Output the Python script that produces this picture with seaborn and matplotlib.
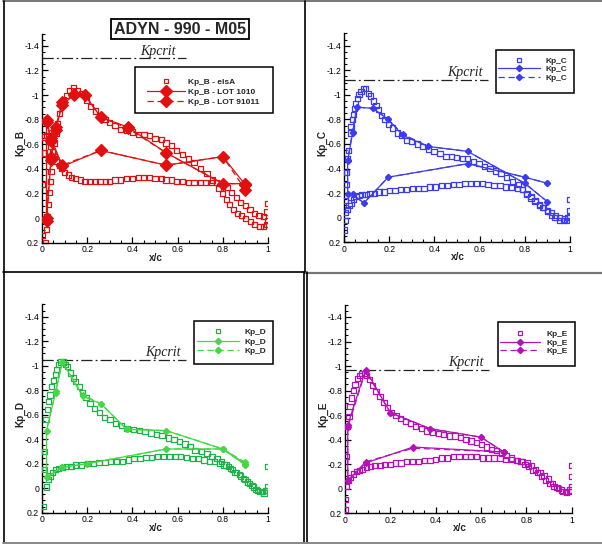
import matplotlib
matplotlib.use("Agg")
import matplotlib.pyplot as plt
import seaborn as sns
import pandas as pd
from matplotlib.lines import Line2D
from matplotlib.patches import Rectangle
from matplotlib.ticker import MultipleLocator, FuncFormatter

sns.set_theme(style="white")
plt.rcParams['font.family'] = ['Liberation Sans', 'DejaVu Sans']

W, H = 602, 545

# ---------------- Kp_B (red) ----------------
b_up_x = [0.0, 0.015, 0.02, 0.022, 0.028, 0.034, 0.037, 0.04, 0.045, 0.053, 0.062, 0.068, 0.077, 0.087,
          0.094, 0.109, 0.124, 0.139, 0.156, 0.175, 0.198, 0.215, 0.235, 0.257, 0.279, 0.30, 0.323, 0.348,
          0.375, 0.40, 0.426, 0.451, 0.475, 0.50, 0.527, 0.549, 0.572, 0.596, 0.622, 0.647, 0.673, 0.70,
          0.73, 0.755, 0.78, 0.80, 0.817, 0.83, 0.846, 0.864, 0.883, 0.90, 0.923, 0.94, 0.965, 0.98, 0.994, 1.0]
b_up_kp = [0.14, 0.20, 0.09, -0.01, -0.11, -0.21, -0.30, -0.38, -0.50, -0.61, -0.69, -0.77, -0.85, -0.93,
           -0.96, -1.00, -1.04, -1.06, -1.04, -1.01, -0.96, -0.91, -0.87, -0.83, -0.80, -0.78, -0.75, -0.72,
           -0.71, -0.70, -0.68, -0.68, -0.67, -0.65, -0.64, -0.61, -0.59, -0.55, -0.52, -0.48, -0.45, -0.40,
           -0.36, -0.31, -0.24, -0.20, -0.15, -0.11, -0.07, -0.04, -0.02, 0.005, 0.03, 0.05, 0.07, 0.07, 0.05, 0.02]
b_lo_x = [0.003, 0.01, 0.013, 0.02, 0.03, 0.038, 0.047, 0.055, 0.065, 0.077, 0.088, 0.10, 0.117, 0.13,
          0.15, 0.17, 0.19, 0.21, 0.235, 0.257, 0.28, 0.30, 0.323, 0.348, 0.375, 0.40, 0.426, 0.45, 0.475,
          0.50, 0.527, 0.549, 0.572, 0.596, 0.622, 0.647, 0.673, 0.70, 0.725, 0.75, 0.773, 0.80, 0.82, 0.84,
          0.86, 0.88, 0.90, 0.92, 0.94, 0.96, 0.98, 0.995, 1.0]
b_lo_kp = [-0.27, -0.53, -0.66, -0.67, -0.62, -0.58, -0.54, -0.50, -0.46, -0.43, -0.40, -0.37, -0.35, -0.33,
           -0.32, -0.31, -0.30, -0.30, -0.30, -0.30, -0.30, -0.30, -0.31, -0.31, -0.32, -0.32, -0.33, -0.33, -0.33,
           -0.32, -0.32, -0.31, -0.31, -0.30, -0.30, -0.29, -0.29, -0.29, -0.29, -0.29, -0.29, -0.28, -0.25, -0.21,
           -0.17, -0.13, -0.10, -0.07, -0.04, -0.02, -0.01, -0.05, -0.12]
# wind-tunnel taps: upper surface from trailing edge to leading edge, then lower surface back
b_lot_x = [0.90, 0.80, 0.55, 0.38, 0.26, 0.19, 0.14, 0.09, 0.06, 0.04, 0.02,
           0.02, 0.04, 0.09, 0.26, 0.55, 0.80, 0.90]
b_lot1010 = [-0.28, -0.28, -0.53, -0.74, -0.82, -1.00, -1.00, -0.92, -0.72, -0.47, 0.00,
             -0.80, -0.65, -0.42, -0.55, -0.43, -0.50, -0.27]
b_lot91011 = [-0.28, -0.28, -0.53, -0.73, -0.82, -1.00, -1.01, -0.94, -0.74, -0.50, 0.02,
              -0.78, -0.63, -0.43, -0.55, -0.43, -0.50, -0.23]
b_kpcrit = -1.30

# ---------------- Kp_C (blue) ----------------
c_up_x = [0.0015, 0.004, 0.007, 0.009, 0.012, 0.015, 0.019, 0.027, 0.031, 0.037, 0.041, 0.046, 0.052,
          0.059, 0.066, 0.075, 0.086, 0.096, 0.108, 0.119, 0.13, 0.142, 0.152, 0.167, 0.181, 0.196, 0.215,
          0.236, 0.255, 0.277, 0.299, 0.324, 0.348, 0.373, 0.398, 0.425, 0.451, 0.476, 0.499, 0.524, 0.547,
          0.572, 0.597, 0.621, 0.646, 0.671, 0.695, 0.72, 0.746, 0.771, 0.79, 0.808, 0.827, 0.845, 0.864,
          0.882, 0.901, 0.919, 0.934, 0.953, 0.97, 0.985, 0.997, 1.0, 1.0]
c_up_kp = [0.10, 0.02, -0.14, -0.27, -0.37, -0.48, -0.55, -0.69, -0.74, -0.80, -0.84, -0.89, -0.93,
           -0.97, -1.00, -1.03, -1.05, -1.05, -1.01, -0.99, -0.95, -0.91, -0.88, -0.83, -0.80, -0.76, -0.73,
           -0.69, -0.67, -0.63, -0.62, -0.60, -0.58, -0.56, -0.54, -0.52, -0.50, -0.50, -0.49, -0.48, -0.48,
           -0.46, -0.44, -0.42, -0.40, -0.38, -0.36, -0.33, -0.29, -0.27, -0.23, -0.19, -0.16, -0.13, -0.11,
           -0.08, -0.05, -0.02, 0.00, 0.02, 0.02, 0.02, -0.01, -0.06, -0.15]
c_lo_x = [0.007, 0.015, 0.022, 0.031, 0.041, 0.053, 0.066, 0.08, 0.097, 0.115, 0.134, 0.155, 0.177, 0.20,
          0.226, 0.25, 0.277, 0.302, 0.329, 0.354, 0.38, 0.405, 0.432, 0.457, 0.484, 0.509, 0.535, 0.56,
          0.587, 0.612, 0.637, 0.664, 0.69, 0.715, 0.742, 0.767, 0.79, 0.81, 0.827, 0.845, 0.864, 0.88,
          0.90, 0.918, 0.936, 0.955, 0.975, 0.99]
c_lo_kp = [-0.04, -0.07, -0.10, -0.12, -0.15, -0.17, -0.18, -0.19, -0.19, -0.20, -0.20, -0.21, -0.21, -0.22,
           -0.22, -0.23, -0.23, -0.24, -0.24, -0.24, -0.25, -0.25, -0.26, -0.26, -0.27, -0.27, -0.28, -0.28,
           -0.28, -0.28, -0.27, -0.26, -0.26, -0.25, -0.25, -0.24, -0.23, -0.20, -0.17, -0.14, -0.10, -0.08,
           -0.06, -0.04, -0.02, 0.0, 0.01, 0.0]
c_lot_x = [0.90, 0.80, 0.547, 0.373, 0.26, 0.196, 0.127, 0.056, 0.038, 0.016,
           0.016, 0.038, 0.088, 0.196, 0.547, 0.80, 0.90]
c_lot1 = [-0.13, -0.28, -0.54, -0.58, -0.67, -0.80, -0.89, -0.90, -0.69, -0.46,
          -0.19, -0.19, -0.12, -0.33, -0.44, -0.33, -0.28]
c_lot2 = [-0.13, -0.28, -0.54, -0.58, -0.68, -0.80, -0.89, -0.90, -0.70, -0.47,
          -0.19, -0.19, -0.12, -0.33, -0.44, -0.33, -0.28]
c_kpcrit = -1.12

# ---------------- Kp_D (green) ----------------
d_up_x = [0.006, 0.01, 0.01, 0.018, 0.024, 0.03, 0.035, 0.043, 0.05, 0.058, 0.065, 0.074, 0.084, 0.094,
          0.105, 0.114, 0.127, 0.139, 0.15, 0.165, 0.18, 0.195, 0.212, 0.232, 0.254, 0.276, 0.301, 0.326,
          0.351, 0.376, 0.404, 0.431, 0.456, 0.482, 0.507, 0.531, 0.559, 0.584, 0.608, 0.633, 0.655, 0.677,
          0.704, 0.73, 0.752, 0.774, 0.796, 0.814, 0.833, 0.854, 0.873, 0.892, 0.91, 0.929, 0.947, 0.965,
          0.982, 0.994, 1.0, 1.0]
d_up_kp = [0.15, -0.15, -0.30, -0.56, -0.64, -0.71, -0.76, -0.83, -0.88, -0.93, -0.97, -1.01, -1.03, -1.03,
           -1.01, -0.99, -0.94, -0.90, -0.87, -0.83, -0.78, -0.74, -0.69, -0.65, -0.62, -0.58, -0.56, -0.53,
           -0.51, -0.49, -0.48, -0.47, -0.46, -0.45, -0.44, -0.43, -0.41, -0.40, -0.38, -0.36, -0.34, -0.31,
           -0.30, -0.28, -0.26, -0.24, -0.22, -0.19, -0.16, -0.13, -0.11, -0.08, -0.05, -0.02, 0.01, 0.03,
           0.04, 0.02, -0.01, -0.18]
d_lo_x = [0.02, 0.028, 0.035, 0.046, 0.058, 0.072, 0.09, 0.109, 0.128, 0.15, 0.176, 0.20, 0.227, 0.252,
          0.279, 0.304, 0.33, 0.357, 0.382, 0.407, 0.434, 0.46, 0.485, 0.51, 0.537, 0.563, 0.589, 0.614,
          0.64, 0.667, 0.692, 0.717, 0.74, 0.765, 0.788, 0.805, 0.825, 0.842, 0.86, 0.88, 0.898, 0.917,
          0.935, 0.955, 0.975, 0.99]
d_lo_kp = [-0.01, -0.07, -0.10, -0.13, -0.15, -0.16, -0.17, -0.18, -0.18, -0.19, -0.19, -0.20, -0.20, -0.21,
           -0.21, -0.22, -0.22, -0.22, -0.23, -0.24, -0.24, -0.25, -0.25, -0.26, -0.26, -0.26, -0.26, -0.26,
           -0.25, -0.24, -0.24, -0.23, -0.22, -0.22, -0.20, -0.19, -0.18, -0.15, -0.13, -0.10, -0.07, -0.04,
           -0.01, 0.02, 0.03, 0.02]
d_lot_x = [0.90, 0.80, 0.55, 0.375, 0.26, 0.18, 0.09, 0.06, 0.02,
           0.02, 0.09, 0.20, 0.55, 0.80, 0.90]
d_lot1 = [-0.20, -0.32, -0.47, -0.48, -0.69, -0.75, -1.03, -0.78, -0.47,
          -0.09, -0.17, -0.20, -0.32, -0.32, -0.19]
d_lot2 = [-0.21, -0.32, -0.47, -0.48, -0.69, -0.76, -1.03, -0.79, -0.47,
          -0.09, -0.17, -0.20, -0.32, -0.32, -0.19]
d_kpcrit = -1.05

# ---------------- Kp_E (magenta) ----------------
e_up_x = [0.0, 0.003, 0.005, 0.012, 0.018, 0.022, 0.029, 0.037, 0.044, 0.054, 0.063, 0.074, 0.085, 0.096,
          0.108, 0.122, 0.137, 0.154, 0.172, 0.186, 0.205, 0.225, 0.245, 0.266, 0.29, 0.312, 0.338, 0.36,
          0.386, 0.413, 0.436, 0.461, 0.485, 0.51, 0.534, 0.556, 0.581, 0.603, 0.625, 0.647, 0.669, 0.691,
          0.714, 0.736, 0.756, 0.776, 0.794, 0.811, 0.829, 0.849, 0.868, 0.886, 0.904, 0.922, 0.941, 0.96,
          0.978, 0.993, 1.0, 1.0, 1.0]
e_up_kp = [0.17, 0.09, -0.26, -0.51, -0.59, -0.67, -0.74, -0.80, -0.85, -0.90, -0.92, -0.94, -0.94, -0.92,
           -0.89, -0.84, -0.79, -0.75, -0.70, -0.66, -0.62, -0.60, -0.57, -0.55, -0.53, -0.51, -0.49, -0.47,
           -0.46, -0.45, -0.44, -0.43, -0.43, -0.42, -0.40, -0.39, -0.38, -0.36, -0.34, -0.32, -0.31, -0.29,
           -0.27, -0.25, -0.23, -0.22, -0.20, -0.18, -0.15, -0.13, -0.10, -0.07, -0.04, -0.02, 0.00, 0.02,
           0.03, 0.02, -0.02, -0.10, -0.19]
e_lo_x = [0.007, 0.015, 0.025, 0.037, 0.049, 0.063, 0.078, 0.096, 0.113, 0.132, 0.154, 0.176, 0.199, 0.224,
          0.247, 0.272, 0.297, 0.324, 0.349, 0.375, 0.40, 0.426, 0.451, 0.478, 0.503, 0.53, 0.554, 0.58,
          0.606, 0.632, 0.657, 0.684, 0.709, 0.735, 0.76, 0.784, 0.804, 0.824, 0.841, 0.86, 0.878, 0.897,
          0.915, 0.935, 0.955, 0.975, 0.99]
e_lo_kp = [-0.02, -0.07, -0.09, -0.12, -0.14, -0.15, -0.16, -0.17, -0.18, -0.19, -0.19, -0.20, -0.20, -0.21,
           -0.21, -0.22, -0.22, -0.22, -0.23, -0.23, -0.24, -0.25, -0.25, -0.26, -0.26, -0.26, -0.26, -0.26,
           -0.25, -0.25, -0.25, -0.25, -0.24, -0.24, -0.23, -0.22, -0.21, -0.19, -0.16, -0.13, -0.11, -0.08,
           -0.04, -0.01, 0.01, 0.02, 0.01]
e_lot_x = [0.70, 0.60, 0.375, 0.20, 0.091, 0.012,
           0.012, 0.091, 0.30, 0.70]
e_lot1 = [-0.30, -0.42, -0.49, -0.62, -0.97, -0.52,
          -0.07, -0.21, -0.34, -0.30]
e_lot2 = [-0.30, -0.42, -0.49, -0.62, -0.96, -0.50,
          -0.06, -0.22, -0.33, -0.30]
e_kpcrit = -0.97

panels = [
    dict(name="Kp_B", color="#e01010", line_color="#e01010",
         up=(b_up_x, b_up_kp), lo=(b_lo_x, b_lo_kp), lot=(b_lot_x, b_lot1010, b_lot91011),
         kpcrit=b_kpcrit, big=True,
         labels=["Kp_B - elsA", "Kp_B - LOT 1010", "Kp_B - LOT 91011"],
         axpx=(42, 33.6, 268, 242.7), legpx=(135, 67, 273, 113), leg_anchor=(147, 77.9),
         hlen=4.56, htp=0.36, lsp=0.26, crit_x=0.515),
    dict(name="Kp_C", color="#3c3cf0", line_color="#3c3cf0",
         up=(c_up_x, c_up_kp), lo=(c_lo_x, c_lo_kp), lot=(c_lot_x, c_lot1, c_lot2),
         kpcrit=c_kpcrit, big=False, labels=["Kp_C", "Kp_C", "Kp_C"],
         axpx=(344, 33.4, 570, 242.3), legpx=(496, 50, 574, 93), leg_anchor=(498, 57.5),
         hlen=5.0, htp=0.72, lsp=0.03, crit_x=0.535),
    dict(name="Kp_D", color="#22b04a", line_color="#44d844",
         up=(d_up_x, d_up_kp), lo=(d_lo_x, d_lo_kp), lot=(d_lot_x, d_lot1, d_lot2),
         kpcrit=d_kpcrit, big=False, labels=["Kp_D", "Kp_D", "Kp_D"],
         axpx=(42, 304.4, 268, 512.7), legpx=(194, 320.7, 273, 364.3), leg_anchor=(196.7, 328.5),
         hlen=5.1, htp=0.6, lsp=0.16, crit_x=0.537),
    dict(name="Kp_E", color="#b512b5", line_color="#b512b5",
         up=(e_up_x, e_up_kp), lo=(e_lo_x, e_lo_kp), lot=(e_lot_x, e_lot1, e_lot2),
         kpcrit=e_kpcrit, big=False, labels=["Kp_E", "Kp_E", "Kp_E"],
         axpx=(345, 304.7, 571.7, 513.3), legpx=(498, 322.3, 575, 366), leg_anchor=(500, 330.2),
         hlen=4.8, htp=0.8, lsp=0.08, crit_x=0.532),
]

fig = plt.figure(figsize=(W / 100, H / 100), dpi=100)
fig.patch.set_facecolor("white")


def fx(px):
    return px / W


def fy(py):
    return 1 - py / H


fmt = FuncFormatter(lambda v, p: "%g" % round(v, 2))

for p in panels:
    x0, y0, x1, y1 = p["axpx"]
    ax = fig.add_axes([fx(x0), fy(y1), (x1 - x0) / W, (y1 - y0) / H])
    ax.set_facecolor("white")
    col = p["color"]

    # computed pressure distribution (open squares)
    els = pd.DataFrame({"x": list(p["up"][0]) + list(p["lo"][0]),
                        "kp": list(p["up"][1]) + list(p["lo"][1])})
    sns.scatterplot(data=els, x="x", y="kp", marker="s", s=14, facecolors="none",
                    edgecolor=col, linewidth=0.9, ax=ax, zorder=3)

    # measured taps, two runs
    lx, l1, l2 = p["lot"]
    ms = 6.5 if p["big"] else 3.2
    lc = p["line_color"]
    sns.lineplot(x=lx, y=l1, sort=False, estimator=None, ax=ax, color=lc, lw=0.9,
                 marker="D", markersize=ms, markeredgecolor=lc, markerfacecolor=lc, zorder=4)
    sns.lineplot(x=lx, y=l2, sort=False, estimator=None, ax=ax, color=lc, lw=0.9,
                 linestyle=(0, (5, 3)), marker="D", markersize=ms, markeredgecolor=lc,
                 markerfacecolor=lc, zorder=4)

    # critical pressure coefficient
    ax.plot([0, 0.635], [p["kpcrit"], p["kpcrit"]], color="#222222", lw=0.9,
            linestyle=(0, (9, 2.5, 1.5, 2.5)), zorder=2)
    ax.text(p["crit_x"], p["kpcrit"] - 0.03, "Kpcrit", ha="center", va="baseline",
            fontsize=10, style="italic", family=["Liberation Serif", "DejaVu Serif"], color="#222222")

    ax.set_xlim(0, 1)
    ax.set_ylim(0.2, -1.5)
    ax.set_xticks([0, 0.2, 0.4, 0.6, 0.8, 1.0])
    ax.set_yticks([-1.4, -1.2, -1.0, -0.8, -0.6, -0.4, -0.2, 0.0, 0.2])
    ax.xaxis.set_minor_locator(MultipleLocator(0.05))
    ax.yaxis.set_minor_locator(MultipleLocator(0.05))
    ax.xaxis.set_major_formatter(fmt)
    ax.yaxis.set_major_formatter(fmt)
    ax.tick_params(which="both", direction="in", colors="black", labelsize=6.2, pad=2,
                   left=True, bottom=True, top=False, right=False)
    ax.tick_params(which="major", length=4, width=0.9)
    ax.tick_params(which="minor", length=2, width=0.8)
    for s in ["top", "right"]:
        ax.spines[s].set_visible(False)
    for s in ["left", "bottom"]:
        ax.spines[s].set_color("black")
        ax.spines[s].set_linewidth(1.0)
    ax.grid(False)

    ax.set_xlabel("x/c", fontsize=7.2, fontweight="bold", labelpad=1)
    ax.set_ylabel(p["name"], fontsize=7.2, fontweight="bold")
    ax.xaxis.set_label_coords(0.505, -0.048)
    ax.yaxis.set_label_coords(-0.075, 0.475)

    # legend
    handles = [
        Line2D([], [], ls="none", marker="s", markersize=3.4, mfc="none", mec=col, mew=0.9),
        Line2D([], [], color=lc, lw=0.9, marker="D", markersize=ms, mfc=lc, mec=lc),
        Line2D([], [], color=lc, lw=0.9, ls=(0, (5, 3)), marker="D", markersize=ms, mfc=lc, mec=lc),
    ]
    leg = ax.legend(handles, p["labels"], loc="upper left",
                    bbox_to_anchor=(fx(p["leg_anchor"][0]), fy(p["leg_anchor"][1])),
                    bbox_transform=fig.transFigure, frameon=False, borderpad=0, borderaxespad=0,
                    handlelength=p["hlen"], handletextpad=p["htp"], labelspacing=p["lsp"],
                    numpoints=1, prop={"size": 6, "weight": "bold"})
    lx0, ly0, lx1, ly1 = p["legpx"]
    fig.add_artist(Rectangle((fx(lx0), fy(ly1)), (lx1 - lx0) / W, (ly1 - ly0) / H,
                             transform=fig.transFigure, fill=False, ec="black", lw=1.1, zorder=5))

# title box
fig.text(fx(180), fy(29), "ADYN - 990 - M05", ha="center", va="center", fontsize=11.5,
         fontweight="bold", bbox=dict(boxstyle="square,pad=0.18", fc="white", ec="black", lw=1.3))

# panel frames
def hline(y, xa, xb, c="black", lw=1.2):
    fig.add_artist(Line2D([fx(xa), fx(xb)], [fy(y), fy(y)], color=c, lw=lw, transform=fig.transFigure))


def vline(x, ya, yb, c="black", lw=1.2):
    fig.add_artist(Line2D([fx(x), fx(x)], [fy(ya), fy(yb)], color=c, lw=lw, transform=fig.transFigure))


hline(1.2, 3, 602, c="#777777", lw=1.4)
vline(3.5, 1, 543)
vline(304.5, 1, 272.5)
hline(272.2, 3, 304.5)
hline(272.8, 306, 602, c="#777777", lw=1.6)
vline(304.0, 272, 543)
vline(306.6, 272, 543)
hline(543, 3, 602, c="#888888", lw=1.4)

fig.savefig("out.png", dpi=100, facecolor="white")
